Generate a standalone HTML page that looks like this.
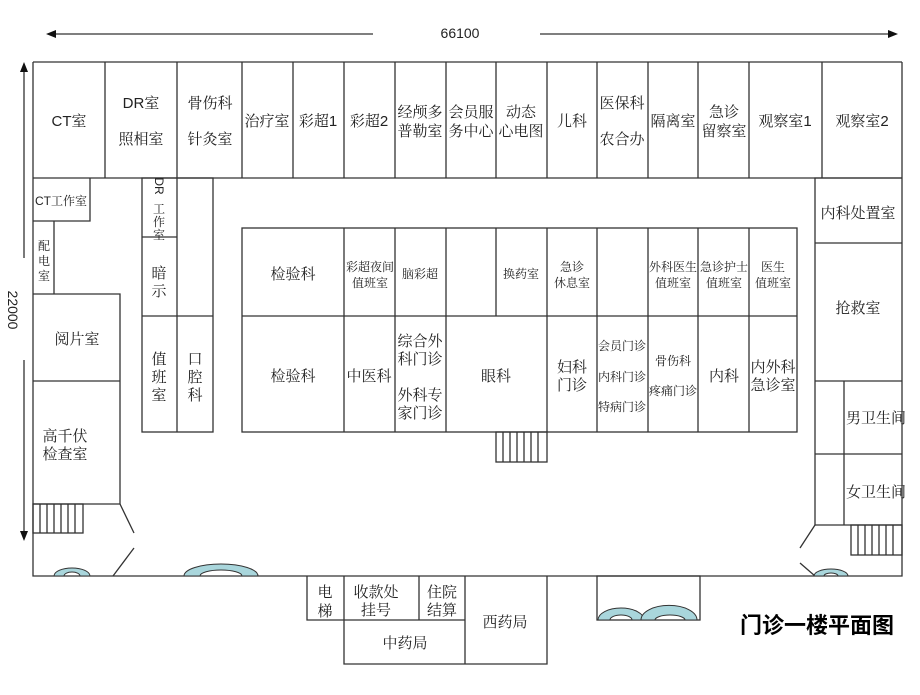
<!DOCTYPE html>
<html><head><meta charset="utf-8"><style>
html,body{margin:0;padding:0;background:#fff;}
svg text{font-family:"Liberation Sans","Noto Serif CJK SC",serif;fill:#222;text-anchor:middle;}
</style></head><body>
<svg width="920" height="690" viewBox="0 0 920 690" xmlns="http://www.w3.org/2000/svg">
<g stroke="#333" stroke-width="1.3" fill="none">
<line x1="52" y1="34" x2="373" y2="34"/>
<line x1="540" y1="34" x2="892" y2="34"/>
<line x1="24" y1="68" x2="24" y2="258"/>
<line x1="24" y1="360" x2="24" y2="535"/>
<line x1="33" y1="62" x2="902" y2="62"/>
<path d="M33 62 V576 H902 V62"/>
<line x1="33" y1="178" x2="902" y2="178"/>
<path d="M105 62V178M177 62V178M242 62V178M293 62V178M344 62V178M395 62V178M446 62V178M496 62V178M547 62V178M597 62V178M648 62V178M698 62V178M749 62V178M822 62V178"/>
<path d="M33 221H90V178M54 221V294M33 294H120V504H33M33 381H120"/>
<rect x="33" y="504" width="50" height="29"/>
<path d="M40 504V533M47 504V533M54 504V533M61 504V533M68 504V533M75 504V533"/>
<path d="M120 504L134 533M134 548L113 576"/>
<rect x="142" y="178" width="71" height="254"/>
<path d="M177 178V432M142 237H177M142 316H213"/>
<rect x="242" y="228" width="555" height="204"/>
<path d="M242 316H797M344 228V432M395 228V432M446 228V432M496 228V316M547 228V432M597 228V432M648 228V432M698 228V432M749 228V432"/>
<rect x="496" y="432" width="51" height="30"/>
<path d="M503 432V462M510 432V462M517 432V462M524 432V462M531 432V462M538 432V462"/>
<path d="M902 178H815V525M815 243H902M815 381H902M844 381V525M815 454H902M815 525H902"/>
<rect x="851" y="525" width="51" height="30"/>
<path d="M858 525V555M865 525V555M872 525V555M879 525V555M886 525V555M893 525V555"/>
<path d="M815 525L800 548M800 563L815 576"/>
<path d="M307 576V620H465V576M344 576V664H547V576M419 576V620M465 576V664"/>
<rect x="597" y="576" width="103" height="44"/>
</g>
<g fill="#111">
<path d="M46 34L56 30V38Z"/><path d="M898 34L888 30V38Z"/>
<path d="M24 62L20 72H28Z"/><path d="M24 541L20 531H28Z"/>
</g>
<g stroke="#333" stroke-width="1" fill="#a9d6dc">
<path d="M54 576A18 8 0 0 1 90 576H80A8 4 0 0 0 64 576Z"/>
<path d="M184 576A37 12 0 0 1 258 576H242A21 6 0 0 0 200 576Z"/>
<path d="M814 576A17 7 0 0 1 848 576H838A7 3 0 0 0 824 576Z"/>
<path d="M598 620A23 12 0 0 1 644 620H632A11 5 0 0 0 610 620Z"/>
<path d="M641 620A23 12 0 0 1 697 620H685A15 5 0 0 0 655 620Z"/>
</g>
<g font-size="14">
<text x="460" y="38">66100</text>
<text transform="translate(8,310) rotate(90)">22000</text>
</g>
<g font-size="15">
<text x="69" y="126">CT室</text>
<text x="141" y="108">DR室</text><text x="141" y="144">照相室</text>
<text x="210" y="108">骨伤科</text><text x="210" y="144">针灸室</text>
<text x="267" y="126">治疗室</text>
<text x="318" y="126">彩超1</text>
<text x="369" y="126">彩超2</text>
<text x="420" y="117">经颅多</text><text x="420" y="136">普勒室</text>
<text x="471" y="117">会员服</text><text x="471" y="136">务中心</text>
<text x="521" y="117">动态</text><text x="521" y="136">心电图</text>
<text x="572" y="126">儿科</text>
<text x="622" y="108">医保科</text><text x="622" y="144">农合办</text>
<text x="673" y="126">隔离室</text>
<text x="724" y="117">急诊</text><text x="724" y="136">留察室</text>
<text x="785" y="126">观察室1</text>
<text x="862" y="126">观察室2</text>
<text x="293" y="279">检验科</text>
<text x="293" y="381">检验科</text>
<text x="369" y="381">中医科</text>
<text x="420" y="346">综合外</text><text x="420" y="364">科门诊</text>
<text x="420" y="400">外科专</text><text x="420" y="418">家门诊</text>
<text x="496" y="381">眼科</text>
<text x="572" y="372">妇科</text><text x="572" y="390">门诊</text>
<text x="724" y="381">内科</text>
<text x="773" y="372">内外科</text><text x="773" y="390">急诊室</text>
<text x="77" y="344">阅片室</text>
<text x="65" y="441">高千伏</text><text x="65" y="459">检查室</text>
<text x="159" y="278">暗</text><text x="159" y="296">示</text>
<text x="159" y="364">值</text><text x="159" y="382">班</text><text x="159" y="400">室</text>
<text x="195" y="364">口</text><text x="195" y="382">腔</text><text x="195" y="400">科</text>
<text x="858" y="218">内科处置室</text>
<text x="858" y="313">抢救室</text>
<text x="876" y="423">男卫生间</text>
<text x="876" y="497">女卫生间</text>
<text x="325" y="597">电</text><text x="325" y="616">梯</text>
<text x="376" y="597">收款处</text><text x="376" y="615">挂号</text>
<text x="442" y="597">住院</text><text x="442" y="615">结算</text>
<text x="405" y="648">中药局</text>
<text x="505" y="627">西药局</text>
</g>
<g font-size="12">
<text x="370" y="271">彩超夜间</text><text x="370" y="287">值班室</text>
<text x="420" y="278">脑彩超</text>
<text x="521" y="278">换药室</text>
<text x="572" y="271">急诊</text><text x="572" y="287">休息室</text>
<text x="673" y="271">外科医生</text><text x="673" y="287">值班室</text>
<text x="724" y="271">急诊护士</text><text x="724" y="287">值班室</text>
<text x="773" y="271">医生</text><text x="773" y="287">值班室</text>
<text x="622" y="350">会员门诊</text>
<text x="622" y="381">内科门诊</text>
<text x="622" y="411">特病门诊</text>
<text x="673" y="365">骨伤科</text>
<text x="673" y="395">疼痛门诊</text>
<text x="61" y="205">CT工作室</text>
<text x="44" y="250">配</text><text x="44" y="265">电</text><text x="44" y="280">室</text>
<text transform="translate(155,186) rotate(90)" x="0" y="0">DR</text>
<text x="159" y="213">工</text><text x="159" y="226">作</text><text x="159" y="239">室</text>
</g>
<text x="817" y="633" font-size="22" font-weight="bold" style="fill:#000;font-family:'Liberation Sans','Noto Sans CJK SC',sans-serif">门诊一楼平面图</text>
</svg>
</body></html>
